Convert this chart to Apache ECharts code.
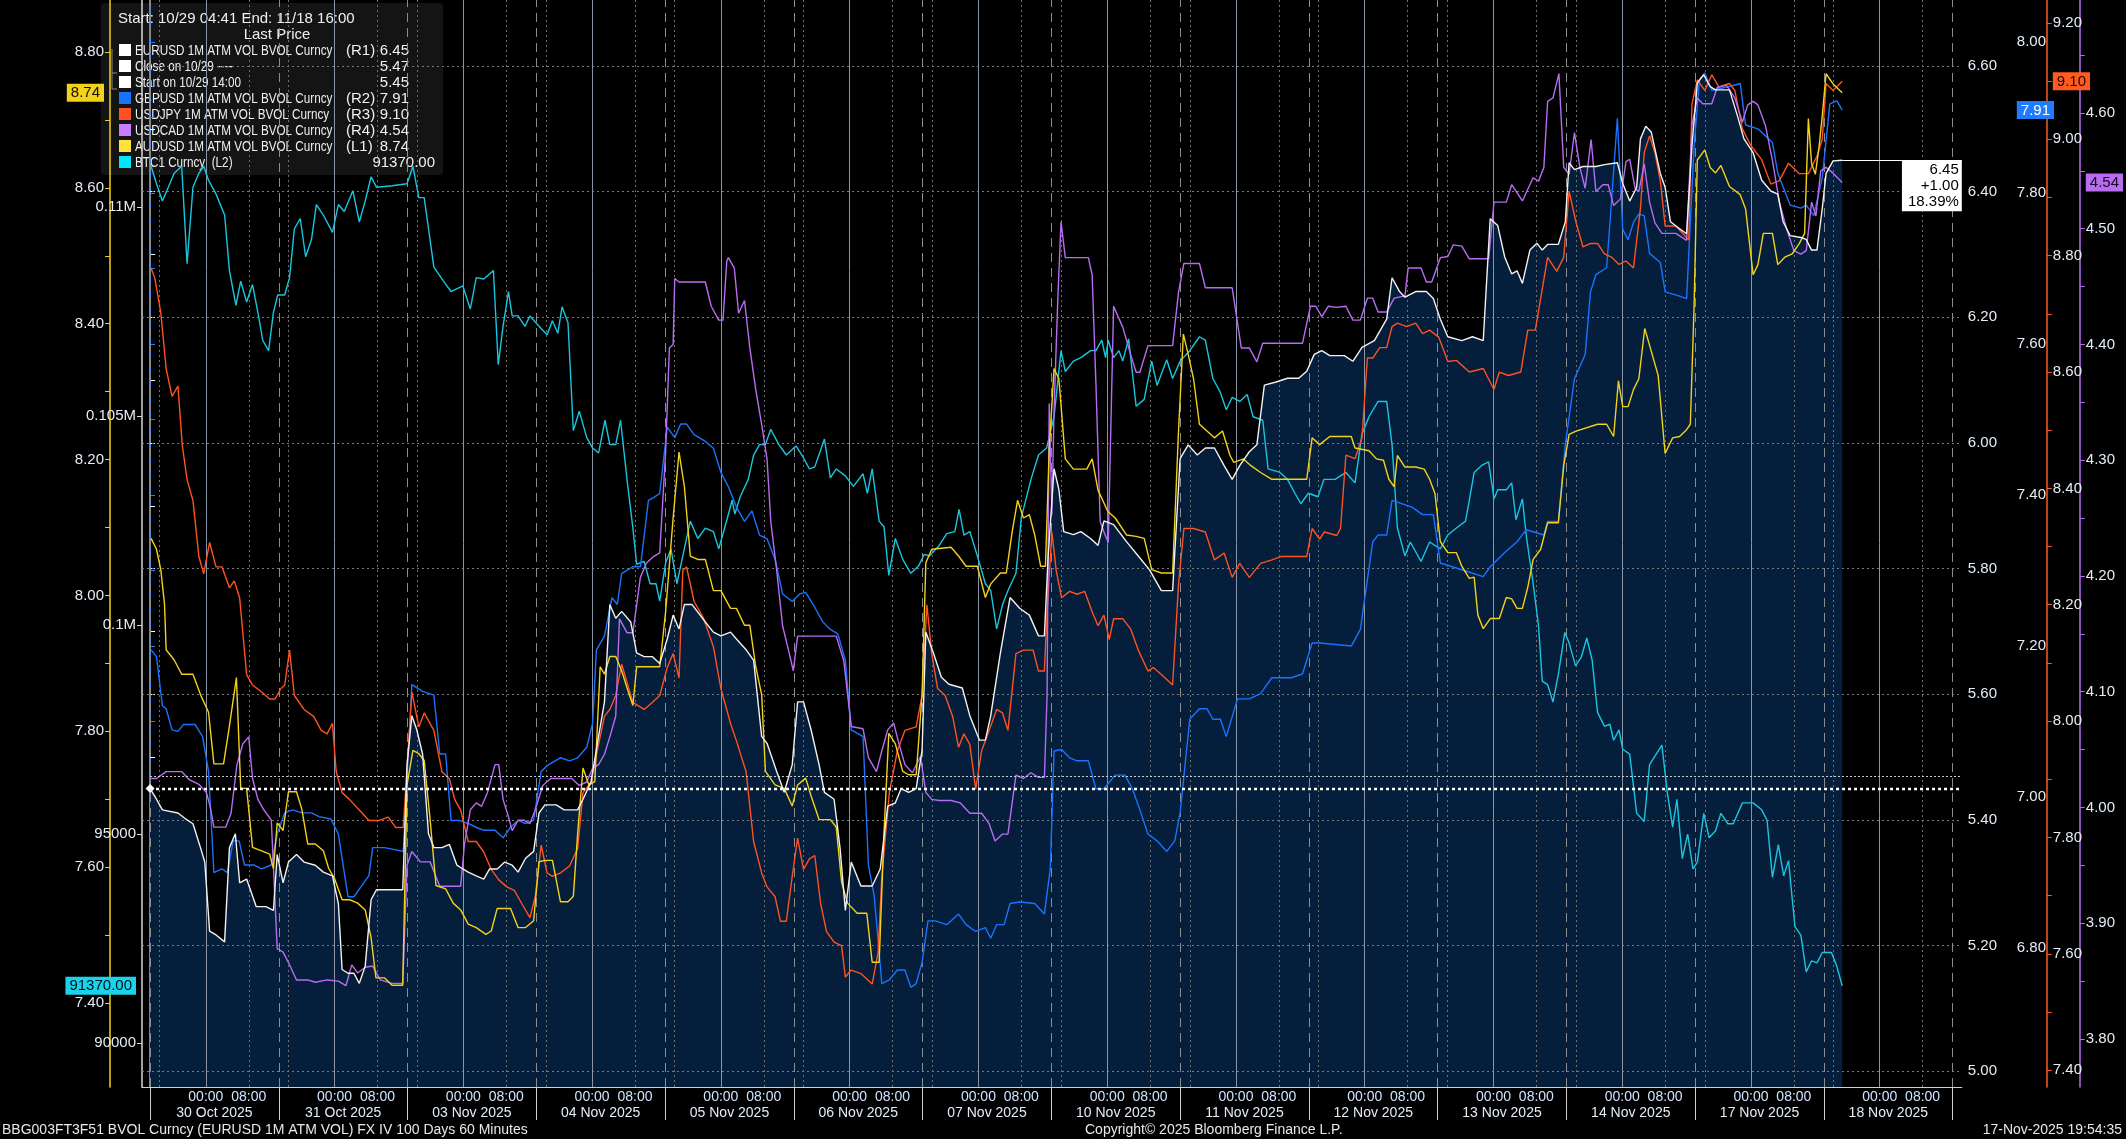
<!doctype html>
<html lang="en">
<head>
  <meta charset="UTF-8">
  <title>EURUSD 1M ATM VOL</title>
  <style>
    html, body { margin: 0; padding: 0; background: #000; }
  </style>
</head>
<body>
<div id="main" style="width: 2126px;height: 1139px"></div>
<script src="https://cdn.jsdelivr.net/npm/echarts@6/dist/echarts.min.js"></script>
<script>
    // x values are trading hours since 10/29 14:00 (each day column = 24h)
    var days = ['30 Oct 2025', '31 Oct 2025', '03 Nov 2025', '04 Nov 2025', '05 Nov 2025', '06 Nov 2025', '07 Nov 2025',
        '10 Nov 2025', '11 Nov 2025', '12 Nov 2025', '13 Nov 2025', '14 Nov 2025', '17 Nov 2025', '18 Nov 2025'];

    var eurusd = [[0,5.45],[1.2,5.433],[2.3,5.416],[5.2,5.411],[6.9,5.400],[8.0,5.394],[9.4,5.356],[10.2,5.333],[11.1,5.223],[12.3,5.217],[13.9,5.206],[14.8,5.356],[15.9,5.378],[16.7,5.300],[18.0,5.306],[19.8,5.262],[21.6,5.262],[23.0,5.256],[23.7,5.345],[24.8,5.300],[25.8,5.333],[27.3,5.345],[28.7,5.333],[30.8,5.328],[32.3,5.317],[34.0,5.311],[35.1,5.267],[35.8,5.162],[36.9,5.156],[38.0,5.156],[39.0,5.140],[40.1,5.167],[41.2,5.273],[42.2,5.289],[43.7,5.289],[45.1,5.289],[47.1,5.289],[47.9,5.488],[48.8,5.566],[49.7,5.544],[50.8,5.505],[51.9,5.378],[52.9,5.356],[54.4,5.356],[55.8,5.361],[57.2,5.328],[58.3,5.322],[59.3,5.317],[60.8,5.311],[62.2,5.306],[63.3,5.322],[64.7,5.322],[66.1,5.333],[67.5,5.328],[68.6,5.317],[70.0,5.339],[71.5,5.350],[72.5,5.411],[73.6,5.424],[75.7,5.424],[77.2,5.416],[79.7,5.416],[80.7,5.433],[82.2,5.461],[83.6,5.533],[84.7,5.588],[85.7,5.743],[86.8,5.721],[87.9,5.732],[89.6,5.715],[90.7,5.666],[92.1,5.660],[93.6,5.660],[95.0,5.649],[96.4,5.688],[97.5,5.726],[98.6,5.704],[99.6,5.743],[101.0,5.743],[103.5,5.715],[105.0,5.699],[106.4,5.693],[108.2,5.699],
        [109.3,5.688],[111.1,5.671],[112.5,5.654],[114.0,5.533],[115.0,5.522],[116.8,5.477],[118.2,5.444],[119.7,5.488],[120.7,5.588],[121.8,5.588],[123.2,5.544],[124.7,5.488],[125.7,5.444],[127.5,5.433],[128.6,5.356],[129.6,5.256],[130.7,5.333],[132.5,5.295],[134.6,5.295],[136.1,5.322],[137.5,5.422],[138.9,5.427],[140.0,5.450],[141.4,5.444],[142.8,5.450],[143.9,5.511],[144.6,5.699],[146.0,5.666],[147.5,5.627],[148.9,5.616],[151.4,5.610],[152.8,5.566],[154.6,5.527],[155.7,5.527],[156.7,5.566],[158.5,5.666],[160.3,5.754],[162.1,5.737],[163.9,5.726],[165.6,5.693],[166.7,5.693],[167.4,5.820],[168.5,5.959],[169.4,5.926],[170.3,5.859],[172.1,5.854],[173.5,5.859],[175.3,5.848],[176.7,5.837],[177.8,5.876],[179.6,5.870],[182.0,5.843],[184.2,5.820],[186.3,5.798],[188.5,5.765],[190.6,5.765],[192.0,5.975],[193.5,5.997],[195.2,5.981],[196.7,5.992],[198.4,5.992],[200.2,5.964],[201.7,5.942],[203.1,5.964],[204.9,5.986],[206.3,5.997],[207.7,6.092],[209.9,6.097],[212.0,6.103],[214.1,6.103],[215.6,6.114],[217.0,6.141],[218.4,6.147],
        [219.9,6.139],[222.6,6.139],[224.2,6.130],[225.9,6.152],[228.2,6.163],[230.5,6.197],[231.5,6.263],[232.9,6.241],[233.9,6.232],[235.9,6.241],[237.9,6.241],[239.2,6.230],[240.5,6.197],[241.9,6.169],[244.5,6.163],[246.5,6.169],[248.5,6.163],[249.8,6.357],[251.2,6.346],[252.5,6.296],[253.8,6.269],[254.8,6.274],[255.8,6.254],[257.2,6.307],[258.5,6.318],[259.5,6.307],[260.5,6.316],[262.5,6.316],[263.8,6.352],[264.5,6.446],[265.5,6.435],[267.1,6.440],[269.5,6.440],[271.1,6.443],[273.5,6.446],[274.5,6.413],[275.8,6.385],[277.1,6.407],[277.8,6.484],[278.8,6.504],[279.8,6.495],[281.5,6.429],[282.4,6.407],[283.4,6.352],[285.1,6.341],[286.4,6.333],[287.4,6.473],[288.4,6.573],[289.6,6.586],[290.8,6.567],[291.8,6.562],[294.4,6.562],[295.8,6.523],[297.1,6.484],[298.8,6.462],[300.4,6.418],[302.1,6.401],[303.4,6.396],[304.4,6.352],[305.7,6.330],[307.7,6.327],[308.7,6.324],[309.7,6.307],[310.7,6.307],[311.7,6.374],[312.4,6.429],[313.7,6.449],[315.4,6.45]];

    var gbpusd = [[0.2,7.195],[1.2,7.186],[2.3,7.121],[3.0,7.117],[4.1,7.089],[5.2,7.087],[6.2,7.096],[8.4,7.096],[9.8,7.080],[10.9,7.034],[11.9,6.900],[13.4,6.905],[14.4,6.900],[15.5,6.942],[16.6,6.942],[17.6,6.910],[19.4,6.910],[20.8,6.905],[22.6,6.910],[23.7,6.951],[25.1,6.979],[26.6,6.983],[28.3,6.979],[30.1,6.979],[31.5,6.974],[33.7,6.971],[35.1,6.951],[36.9,6.868],[38.0,6.868],[39.4,6.882],[40.8,6.896],[41.5,6.933],[43.7,6.933],[47.2,6.928],[48.8,7.149],[50.8,7.140],[52.9,7.135],[54.0,7.057],[55.1,7.057],[56.1,6.969],[57.6,6.969],[59.3,6.965],[60.8,6.960],[62.2,6.956],[64.3,6.956],[65.8,6.946],[67.2,6.960],[68.6,6.969],[70.0,6.965],[71.5,6.969],[72.9,7.034],[74.3,7.043],[76.5,7.052],[78.2,7.048],[79.7,7.052],[81.4,7.066],[82.5,7.098],[83.2,7.195],[84.7,7.213],[86.1,7.264],[87.1,7.255],[87.9,7.296],[90.0,7.305],[91.4,7.305],[92.9,7.393],[93.9,7.397],[95.0,7.402],[96.4,7.490],[97.8,7.476],[98.9,7.494],[100.0,7.494],[101.4,7.480],[103.5,7.471],[105.0,7.462],[106.4,7.430],[107.8,7.411],
        [109.3,7.384],[110.8,7.365],[112.2,7.379],[113.6,7.347],[115.0,7.342],[116.5,7.315],[117.9,7.269],[119.7,7.259],[121.1,7.269],[122.2,7.271],[123.6,7.255],[125.4,7.232],[126.8,7.222],[128.2,7.216],[129.6,7.181],[130.7,7.089],[132.9,7.080],[133.9,6.910],[135.0,6.868],[136.4,6.753],[137.8,6.758],[139.3,6.771],[140.7,6.771],[141.8,6.748],[142.8,6.753],[143.9,6.781],[145.0,6.836],[146.4,6.836],[148.5,6.831],[150.7,6.845],[152.1,6.831],[153.9,6.822],[155.7,6.827],[156.7,6.813],[157.8,6.831],[159.2,6.831],[160.3,6.859],[162.1,6.861],[164.9,6.859],[166.7,6.845],[167.8,6.905],[168.5,7.061],[169.9,7.063],[171.4,7.052],[172.8,7.048],[174.9,7.048],[176.3,7.011],[177.8,7.011],[179.9,7.029],[181.7,7.029],[183.1,7.011],[184.5,6.983],[186.0,6.951],[187.7,6.942],[189.5,6.928],[191.0,6.942],[192.0,6.979],[193.8,7.103],[195.6,7.117],[197.0,7.117],[198.1,7.103],[199.5,7.103],[200.6,7.080],[202.7,7.130],[204.9,7.130],[207.0,7.137],[209.1,7.158],[212.7,7.158],[214.8,7.163],[216.6,7.204],[218.0,7.204],
        [223.9,7.200],[225.6,7.222],[227.9,7.338],[228.9,7.347],[230.5,7.347],[231.5,7.393],[235.2,7.384],[237.2,7.374],[239.2,7.374],[240.5,7.310],[244.5,7.301],[248.5,7.292],[249.8,7.305],[252.5,7.324],[254.8,7.338],[256.5,7.354],[259.8,7.347],[260.5,7.365],[262.5,7.365],[263.8,7.467],[265.5,7.554],[267.5,7.586],[268.5,7.669],[269.5,7.692],[271.5,7.701],[272.5,7.798],[273.5,7.899],[274.5,7.752],[275.5,7.738],[276.5,7.761],[277.5,7.772],[278.5,7.770],[279.5,7.720],[281.5,7.708],[282.4,7.669],[284.8,7.664],[286.4,7.660],[287.8,7.862],[288.8,7.950],[289.8,7.959],[291.1,7.936],[294.4,7.941],[296.4,7.945],[297.4,7.890],[299.7,7.885],[302.4,7.867],[303.4,7.826],[305.7,7.784],[307.7,7.780],[308.7,7.784],[310.1,7.770],[311.7,7.821],[313.1,7.918],[314.4,7.922],[315.4,7.91]];

    var usdjpy = [[0.2,8.779],[0.9,8.761],[2.0,8.702],[3.0,8.606],[4.1,8.558],[5.2,8.576],[6.0,8.475],[6.9,8.415],[8.0,8.379],[9.1,8.283],[10.0,8.253],[11.1,8.307],[12.3,8.265],[13.4,8.265],[14.8,8.229],[15.7,8.241],[16.7,8.212],[18.0,8.080],[19.1,8.062],[20.8,8.050],[22.3,8.038],[23.3,8.038],[24.4,8.056],[25.1,8.062],[26.0,8.122],[26.9,8.044],[28.7,8.020],[30.5,8.008],[31.9,7.984],[33.0,7.978],[34.0,7.996],[34.7,7.913],[35.8,7.877],[37.2,7.865],[39.0,7.847],[40.8,7.829],[42.6,7.829],[44.4,7.835],[45.8,7.817],[47.2,7.817],[48.8,8.050],[50.1,7.990],[51.1,8.014],[52.9,7.984],[54.4,7.913],[55.8,7.901],[56.8,7.865],[57.9,7.847],[59.3,7.793],[60.8,7.793],[62.2,7.775],[63.6,7.745],[65.0,7.727],[66.5,7.715],[67.9,7.709],[69.3,7.686],[70.8,7.662],[71.8,7.698],[72.9,7.787],[74.0,7.739],[75.0,7.733],[76.5,7.739],[78.2,7.751],[79.7,7.781],[80.7,7.877],[82.2,7.895],[83.6,7.960],[84.7,8.008],[85.7,8.020],[86.8,8.044],[87.9,8.098],[90.0,8.032],[92.1,8.020],[93.6,8.032],[95.0,8.044],[96.4,8.092],[97.5,8.116],[98.6,8.074],[99.3,8.259],[100.0,8.265],[101.4,8.206],[103.2,8.176],[105.0,8.128],[106.4,8.056],[108.2,7.996],
        [109.3,7.966],[111.1,7.913],[112.5,7.793],[114.0,7.739],[115.0,7.715],[116.5,7.698],[117.5,7.656],[118.6,7.656],[119.7,7.733],[120.7,7.799],[121.8,7.745],[122.9,7.763],[123.9,7.769],[125.0,7.686],[126.1,7.638],[127.5,7.620],[128.9,7.614],[129.6,7.560],[130.7,7.572],[132.5,7.566],[134.6,7.548],[135.7,7.602],[136.4,7.733],[137.8,7.877],[139.3,7.949],[140.7,7.984],[142.8,7.990],[143.9,8.044],[144.8,8.200],[145.7,8.116],[146.8,8.056],[148.2,8.044],[149.6,8.008],[150.7,7.955],[151.7,7.978],[152.8,7.960],[153.9,7.883],[155.0,7.949],[156.4,7.984],[157.8,8.020],[158.9,8.014],[159.9,7.984],[161.4,8.116],[162.8,8.122],[164.6,8.122],[165.6,8.086],[166.7,8.086],[167.2,8.188],[168.1,8.325],[168.9,8.259],[169.9,8.212],[171.4,8.223],[172.8,8.218],[174.2,8.223],[175.6,8.188],[176.7,8.164],[177.8,8.182],[178.8,8.140],[179.6,8.176],[181.3,8.176],[182.8,8.158],[184.2,8.122],[186.0,8.086],[187.0,8.092],[188.5,8.080],[190.6,8.062],[191.7,8.235],[192.7,8.331],[194.5,8.331],[196.7,8.325],[198.4,8.277],[200.2,8.289],[201.7,8.247],[203.1,8.271],[204.9,8.247],[207.0,8.271],[209.1,8.277],[210.9,8.283],[212.7,8.283],[215.6,8.283],[216.6,8.331],[218.0,8.313],
        [218.9,8.325],[221.2,8.319],[221.9,8.331],[222.9,8.457],[224.6,8.451],[225.9,8.487],[226.9,8.624],[227.9,8.624],[229.2,8.642],[230.5,8.642],[231.5,8.678],[232.5,8.684],[234.2,8.678],[235.9,8.684],[237.2,8.666],[238.5,8.672],[240.2,8.660],[241.9,8.618],[243.5,8.620],[245.9,8.600],[248.5,8.606],[250.5,8.570],[251.5,8.600],[253.2,8.594],[255.5,8.600],[256.8,8.672],[258.2,8.672],[260.5,8.797],[262.2,8.773],[263.5,8.797],[264.5,8.911],[265.8,8.857],[267.1,8.815],[268.5,8.821],[269.8,8.821],[271.1,8.803],[272.5,8.797],[273.8,8.785],[275.1,8.791],[276.5,8.779],[277.8,8.881],[278.5,8.977],[279.5,9.006],[280.5,8.977],[281.5,8.929],[282.4,8.851],[284.4,8.851],[286.8,8.827],[287.4,9.060],[288.4,9.102],[289.8,9.084],[291.1,9.111],[292.4,9.090],[294.4,9.096],[295.4,9.084],[296.8,9.018],[298.4,8.989],[300.4,8.965],[302.1,8.923],[303.7,8.929],[305.4,8.959],[307.4,8.941],[309.1,8.941],[310.7,8.971],[311.7,9.001],[312.4,9.096],[313.7,9.084],[315.4,9.10]];

    var usdcad = [[0.2,4.025],[1.2,4.025],[3.0,4.031],[5.9,4.031],[7.3,4.024],[9.1,4.020],[10.5,4.013],[11.2,4.001],[11.9,3.983],[14.1,3.983],[15.1,3.995],[16.2,4.037],[17.3,4.055],[18.4,4.061],[19.1,4.025],[20.1,4.007],[21.2,3.998],[22.6,3.989],[23.7,3.878],[24.8,3.875],[25.8,3.866],[27.3,3.851],[29.4,3.851],[30.8,3.849],[33.0,3.851],[35.1,3.850],[36.5,3.846],[37.6,3.864],[38.7,3.857],[40.1,3.862],[41.5,3.863],[42.9,3.851],[45.1,3.848],[47.1,3.848],[47.9,3.950],[48.8,3.962],[50.4,3.953],[52.2,3.953],[54.0,3.932],[55.8,3.932],[57.9,3.932],[58.6,3.968],[59.7,3.998],[60.8,4.004],[61.8,4.001],[62.9,4.013],[64.3,4.037],[65.0,4.037],[65.8,4.007],[66.8,3.992],[67.5,3.980],[68.6,3.989],[69.7,3.989],[70.8,3.986],[71.8,3.998],[73.2,4.019],[74.7,4.025],[76.5,4.025],[78.6,4.025],[80.0,4.019],[81.4,4.022],[82.5,4.034],[83.6,4.037],[84.7,4.046],[85.7,4.061],[86.8,4.079],[87.5,4.163],[88.9,4.151],[90.0,4.151],[91.4,4.199],[92.5,4.211],[93.9,4.217],[95.0,4.220],[96.1,4.307],[96.8,4.397],[97.5,4.400],[97.8,4.457],[98.6,4.454],[103.5,4.454],[104.6,4.433],[106.0,4.421],[106.8,4.421],[107.5,4.472],[107.8,4.475],[108.9,4.466],
        [109.7,4.427],[110.8,4.438],[111.8,4.397],[112.9,4.361],[114.0,4.331],[115.0,4.301],[115.7,4.247],[116.8,4.205],[117.9,4.157],[119.0,4.136],[119.9,4.118],[120.7,4.148],[122.9,4.148],[125.0,4.148],[127.9,4.148],[129.3,4.127],[130.7,4.070],[132.9,4.068],[133.9,4.043],[135.4,4.031],[136.4,4.049],[137.5,4.067],[138.6,4.073],[139.6,4.055],[140.7,4.037],[142.1,4.030],[143.6,4.044],[144.6,4.013],[145.7,4.007],[147.1,4.006],[149.3,4.006],[151.0,4.004],[152.8,3.995],[155.0,3.995],[156.4,3.986],[157.5,3.971],[158.9,3.977],[159.9,3.977],[161.4,4.028],[162.8,4.025],[164.2,4.030],[165.6,4.026],[166.7,4.026],[167.2,4.097],[167.6,4.349],[168.1,4.253],[168.5,4.343],[169.2,4.439],[169.8,4.506],[170.6,4.475],[174.9,4.475],[175.6,4.460],[176.3,4.367],[177.1,4.247],[177.8,4.238],[178.6,4.229],[179.6,4.433],[181.3,4.415],[182.8,4.391],[183.8,4.376],[184.5,4.376],[186.0,4.399],[188.5,4.399],[190.6,4.399],[191.7,4.445],[192.7,4.470],[195.6,4.470],[196.7,4.449],[198.8,4.449],[201.7,4.449],[203.4,4.397],[204.9,4.397],[206.3,4.385],[207.4,4.401],[209.9,4.401],[212.7,4.401],[214.8,4.401],[216.3,4.433],[217.3,4.433],[218.4,4.424],
        [219.6,4.433],[221.2,4.432],[222.9,4.433],[224.2,4.421],[225.6,4.421],[226.9,4.440],[227.9,4.440],[228.9,4.428],[230.5,4.428],[231.9,4.440],[233.9,4.442],[234.5,4.466],[236.9,4.466],[237.9,4.454],[238.9,4.454],[240.5,4.475],[241.9,4.476],[242.9,4.486],[244.5,4.485],[245.9,4.474],[249.5,4.474],[250.5,4.523],[252.8,4.523],[253.8,4.538],[255.8,4.524],[257.8,4.544],[258.8,4.541],[259.8,4.553],[260.5,4.610],[261.5,4.613],[262.6,4.634],[263.5,4.553],[264.5,4.547],[265.5,4.583],[266.5,4.553],[267.5,4.535],[268.6,4.577],[269.5,4.532],[270.8,4.538],[271.8,4.538],[272.8,4.520],[274.1,4.526],[275.1,4.558],[275.8,4.560],[276.8,4.535],[277.5,4.532],[278.5,4.556],[279.5,4.523],[280.5,4.505],[281.8,4.496],[284.4,4.496],[286.4,4.490],[287.4,4.589],[288.4,4.613],[289.4,4.608],[291.1,4.608],[292.1,4.622],[293.8,4.624],[295.4,4.613],[296.8,4.592],[297.8,4.607],[298.8,4.610],[299.7,4.607],[301.1,4.589],[302.4,4.559],[303.7,4.523],[305.1,4.499],[306.4,4.481],[307.7,4.478],[308.7,4.481],[309.7,4.523],[310.5,4.511],[311.4,4.550],[312.4,4.553],[313.7,4.548],[315.4,4.54]];

    var audusd = [[0.2,8.084],[1.2,8.068],[2.0,8.038],[2.7,7.987],[3.0,7.920],[4.5,7.905],[5.9,7.884],[8.0,7.884],[9.4,7.854],[10.9,7.828],[11.9,7.752],[13.7,7.752],[14.8,7.808],[16.1,7.879],[16.9,7.716],[18.0,7.716],[19.1,7.629],[20.8,7.624],[22.3,7.619],[23.0,7.598],[23.7,7.665],[24.8,7.654],[25.8,7.711],[27.3,7.711],[28.3,7.685],[29.4,7.634],[30.8,7.634],[32.3,7.624],[33.3,7.598],[34.4,7.583],[35.8,7.552],[37.2,7.552],[38.7,7.547],[40.1,7.537],[41.2,7.496],[42.1,7.437],[43.7,7.437],[45.1,7.426],[47.1,7.426],[47.9,7.721],[49.0,7.772],[50.1,7.767],[51.1,7.757],[52.2,7.670],[53.3,7.573],[55.1,7.568],[56.5,7.547],[57.9,7.537],[59.3,7.516],[60.8,7.511],[62.6,7.501],[63.6,7.506],[64.7,7.539],[67.2,7.539],[68.6,7.511],[70.0,7.511],[71.5,7.521],[72.5,7.608],[73.6,7.610],[75.0,7.610],[76.5,7.549],[77.9,7.549],[78.9,7.557],[79.7,7.649],[80.7,7.746],[81.8,7.721],[82.9,7.726],[83.9,7.895],[84.7,7.884],[85.7,7.910],[86.8,7.910],[87.9,7.889],[88.9,7.864],[90.0,7.838],[90.7,7.895],[95.0,7.895],[96.1,7.976],[97.5,8.114],[98.6,8.211],[99.6,8.160],[100.7,8.058],[102.1,8.053],[103.5,8.053],[105.0,8.007],[106.4,8.007],[108.2,7.981],
        [109.3,7.981],[110.8,7.956],[111.8,7.956],[112.9,7.895],[114.0,7.854],[114.7,7.741],[116.5,7.721],[118.2,7.716],[119.7,7.690],[120.7,7.721],[122.2,7.731],[123.2,7.705],[124.7,7.670],[126.8,7.670],[127.9,7.659],[128.9,7.578],[130.0,7.547],[131.8,7.532],[133.6,7.532],[134.6,7.460],[135.9,7.460],[136.8,7.649],[137.7,7.797],[138.9,7.782],[140.3,7.741],[141.4,7.736],[142.8,7.736],[143.9,7.854],[144.6,8.048],[145.7,8.068],[149.3,8.071],[150.7,8.058],[152.1,8.043],[154.2,8.043],[155.7,7.997],[156.7,8.017],[158.5,8.033],[159.6,8.033],[160.7,8.094],[161.7,8.140],[162.8,8.114],[163.9,8.119],[164.9,8.089],[166.0,8.043],[166.9,8.043],[167.6,8.216],[168.5,8.334],[169.4,8.319],[170.6,8.201],[172.1,8.186],[174.6,8.186],[175.6,8.201],[176.7,8.155],[178.5,8.124],[179.9,8.114],[182.0,8.089],[183.8,8.087],[185.3,8.084],[186.7,8.038],[188.5,8.033],[190.6,8.033],[191.7,8.242],[192.6,8.385],[193.5,8.355],[194.5,8.319],[195.6,8.252],[197.0,8.242],[198.4,8.232],[199.9,8.242],[201.3,8.206],[202.0,8.196],[203.8,8.201],[205.2,8.191],[207.0,8.181],[209.1,8.171],[211.3,8.171],[213.4,8.171],[215.6,8.171],[216.6,8.232],[218.0,8.222],
        [219.9,8.234],[221.9,8.234],[223.9,8.234],[224.6,8.217],[227.2,8.213],[228.6,8.201],[229.9,8.199],[230.9,8.171],[231.9,8.160],[232.5,8.206],[233.9,8.189],[235.9,8.189],[237.5,8.186],[238.5,8.171],[239.5,8.150],[240.5,8.079],[241.9,8.063],[243.5,8.063],[244.5,8.043],[245.9,8.025],[246.8,8.027],[247.5,7.971],[248.5,7.951],[249.8,7.966],[251.5,7.966],[252.8,7.997],[253.8,7.995],[254.8,7.981],[255.8,7.981],[256.8,8.012],[257.8,8.053],[259.2,8.068],[260.5,8.107],[262.5,8.107],[263.5,8.191],[264.5,8.237],[265.8,8.242],[269.8,8.252],[271.5,8.252],[272.8,8.234],[273.7,8.316],[274.5,8.278],[275.5,8.278],[276.5,8.303],[277.5,8.319],[278.6,8.393],[279.8,8.360],[281.1,8.324],[282.4,8.209],[283.8,8.232],[285.1,8.234],[286.4,8.244],[287.1,8.252],[287.8,8.426],[288.4,8.641],[289.8,8.656],[290.8,8.630],[291.8,8.622],[292.8,8.633],[294.4,8.602],[296.4,8.590],[297.4,8.569],[298.8,8.472],[299.7,8.487],[300.7,8.533],[302.4,8.533],[303.4,8.487],[304.7,8.498],[306.1,8.503],[307.4,8.518],[308.4,8.533],[309.1,8.702],[309.7,8.636],[310.4,8.620],[311.1,8.661],[311.7,8.707],[312.4,8.768],[313.7,8.753],[315.4,8.74]];

    var btc = [[0.2,110973],[1.2,110557],[2.3,110141],[3.4,110474],[4.5,110807],[5.9,110973],[6.9,108643],[8.0,110474],[9.1,110807],[10.0,110973],[10.9,110641],[12.3,110308],[13.9,109809],[14.8,108477],[16.0,107645],[16.9,108227],[18.0,107728],[19.1,108144],[20.1,107478],[21.0,106812],[22.1,106563],[23.0,107478],[23.8,107894],[25.1,107894],[26.0,108310],[26.9,109475],[28.0,109725],[29.0,108810],[30.1,109226],[31.0,110058],[32.3,109808],[34.0,109392],[35.1,110058],[36.2,109892],[37.8,110391],[39.0,109642],[40.1,110141],[41.2,110724],[42.2,110474],[45.1,110507],[47.9,110557],[49.0,110973],[50.1,110224],[51.1,110224],[52.9,108560],[54.7,108227],[56.1,107978],[58.3,108111],[59.7,107561],[60.8,108310],[62.2,108277],[64.0,108477],[64.9,106230],[65.8,107145],[66.8,107978],[67.5,107395],[68.6,107395],[69.9,107145],[70.8,107395],[72.5,107145],[74.0,106946],[75.0,107279],[76.0,106979],[76.8,107611],[77.9,107229],[78.9,104649],[80.0,105115],[81.4,104482],[82.5,104233],[83.6,104116],[84.8,104898],[85.7,104316],[86.8,104316],[87.7,104898],[88.9,103484],[90.0,102319],[90.7,101453],[92.1,101520],[93.2,100987],[94.3,100987],[95.0,100571],[96.1,101487],[97.1,101820],[98.2,100987],[99.3,101653],[100.7,102485],[102.1,102069],[103.5,102319],[105.0,102235],[106.0,101820],[107.1,102319],[108.5,102985],
        [109.0,102652],[110.0,103068],[111.5,103484],[112.5,104066],[113.6,104316],[114.7,104316],[115.7,104682],[117.2,104316],[118.6,104066],[120.4,104283],[121.5,104066],[122.9,103733],[123.9,103783],[125.7,104449],[126.8,103517],[127.9,103733],[129.6,103567],[131.1,103317],[132.9,103617],[133.7,103151],[134.6,103733],[135.9,102485],[136.8,102352],[137.7,101187],[138.9,102069],[140.3,101570],[141.8,101237],[143.2,101403],[144.3,101686],[145.3,101653],[147.1,101902],[148.5,102185],[150.0,102235],[150.8,102768],[151.7,102152],[152.8,102235],[154.2,101653],[155.7,100987],[156.7,100821],[157.8,99905],[158.9,100488],[159.9,100821],[161.4,101237],[162.4,102568],[164.2,103484],[165.6,104066],[167.1,104233],[168.5,104982],[169.8,106563],[170.6,106064],[172.1,106313],[173.5,106396],[175.3,106563],[176.3,106563],[177.4,106813],[178.1,106396],[178.6,106813],[179.6,106396],[180.6,106563],[181.3,106313],[182.4,106846],[183.8,105231],[185.3,105398],[186.7,106313],[187.7,105731],[189.5,106346],[190.6,105897],[192.0,106313],[193.8,106563],[195.6,106896],[196.7,106813],[198.1,105897],[199.5,105564],[200.6,105148],[201.7,105448],[203.1,105348],[204.5,105514],[205.6,104982],[207.4,104898],[208.4,103733],[210.6,103650],[212.0,103484],[213.4,103151],[214.5,102901],[215.9,103151],[217.7,103068],[218.8,103484],
        [220.9,103484],[222.9,103650],[224.6,103400],[225.9,104566],[227.2,104982],[228.9,105348],[230.5,105348],[231.5,104316],[232.5,102319],[233.9,101653],[234.9,101986],[236.9,101520],[238.5,101986],[240.5,101820],[241.9,102152],[243.5,102319],[245.2,102485],[245.9,102984],[246.8,103650],[248.2,103817],[249.5,103900],[250.5,103017],[251.2,103234],[252.8,103234],[253.8,103400],[254.6,102518],[255.8,103017],[256.5,102152],[257.8,100987],[258.8,99988],[259.5,98657],[260.5,98574],[261.5,98157],[262.5,98823],[263.7,99822],[264.5,99572],[265.7,99023],[266.8,99239],[267.8,99689],[268.8,99156],[269.8,97908],[271.1,97575],[272.1,97625],[272.8,97242],[273.8,97492],[274.5,97026],[275.8,96909],[277.1,95495],[278.5,95295],[279.5,96660],[281.8,97126],[282.8,95994],[283.8,95162],[284.6,95827],[285.6,94413],[286.6,94995],[287.6,94163],[288.4,94329],[289.6,95495],[290.6,94912],[291.8,95079],[292.8,95495],[294.1,95245],[295.1,95245],[296.8,95745],[298.8,95745],[300.4,95578],[301.4,95328],[302.4,93963],[303.5,94746],[304.5,93997],[305.4,94363],[306.6,92782],[307.7,92582],[308.7,91700],[309.7,91966],[310.7,91916],[311.7,92166],[313.4,92166],[314.4,91833],[315.4,91370]];

    // last prices and the start / close reference levels
    var lastEUR = 6.45, lastGBP = 7.91, lastJPY = 9.10, lastCAD = 4.54, lastAUD = 8.74, lastBTC = 91370;
    var closeLevel = 5.47, startLevel = 5.45;

    // axis tick labels
    var r1Labels = [5.0, 5.2, 5.4, 5.6, 5.8, 6.0, 6.2, 6.4, 6.6];
    var r1Minor = [5.1, 5.3, 5.5, 5.7, 5.9, 6.1, 6.3, 6.5];
    var r2Labels = [6.8, 7.0, 7.2, 7.4, 7.6, 7.8, 8.0];
    var r2Minor = [6.9, 7.1, 7.3, 7.5, 7.7, 7.9];
    var r3Labels = [7.4, 7.6, 7.8, 8.0, 8.2, 8.4, 8.6, 8.8, 9.0, 9.2];
    var r3Minor = [7.5, 7.7, 7.9, 8.1, 8.3, 8.5, 8.7, 8.9, 9.1];
    var r4Labels = [3.8, 3.9, 4.0, 4.1, 4.2, 4.3, 4.4, 4.5, 4.6];
    var r4Minor = [3.85, 3.95, 4.05, 4.15, 4.25, 4.35, 4.45, 4.55, 4.65];
    var l1Labels = [7.4, 7.6, 7.8, 8.0, 8.2, 8.4, 8.6, 8.8];
    var l1Minor = [7.5, 7.7, 7.9, 8.1, 8.3, 8.5, 8.7];
    var l2Labels = [90000, 95000, 100000, 105000, 110000];
    var l2Names = {90000: '90000', 95000: '95000', 100000: '0.1M', 105000: '0.105M', 110000: '0.11M'};

    var legendRows = [
        ['EURUSD 1M ATM VOL BVOL Curncy', '(R1)', '6.45', '#ffffff'],
        ['Close on 10/29 ----', '', '5.47', '#ffffff'],
        ['Start on 10/29 14:00', '', '5.45', '#ffffff'],
        ['GBPUSD 1M ATM VOL BVOL Curncy', '(R2)', '7.91', '#1a73ff'],
        ['USDJPY 1M ATM VOL BVOL Curncy', '(R3)', '9.10', '#ff5220'],
        ['USDCAD 1M ATM VOL BVOL Curncy', '(R4)', '4.54', '#c77dff'],
        ['AUDUSD 1M ATM VOL BVOL Curncy', '(L1)', '8.74', '#ffe13a'],
        ['BTC1 Curncy  (L2)', '', '91370.00', '#00e5ff']
    ];

    var FONT = '"Liberation Sans Narrow", "Liberation Sans", sans-serif';
    var TXT = '#e4ecf6';

    var hourLabels = [], boundaries = [], dayCenters = [], solidLines = [], dottedLines = [];
    for (var k = 0; k < days.length; k++) {
        hourLabels.push(24 * k + 10.4, 24 * k + 18.4);
        dayCenters.push(24 * k + 12);
        solidLines.push({xAxis: 24 * k + 10.4});
        dottedLines.push({xAxis: 24 * k + 1.8}, {xAxis: 24 * k + 18.4});
    }
    for (k = 0; k <= days.length; k++) boundaries.push(24 * k);

    function yAx(pos, offset, color, min, max, labels, minor, last, tagStyle, names) {
        return {
            type: 'value', position: pos, offset: offset, min: min, max: max,
            splitLine: {show: false},
            axisLine: {show: true, lineStyle: {color: color, width: 1.5}},
            axisTick: {show: true, customValues: labels.concat(minor), length: 5, lineStyle: {color: color}},
            axisLabel: {
                customValues: last === null ? labels : labels.concat([last]),
                fontFamily: FONT, fontSize: 15, color: TXT, margin: 6, showMinLabel: true, showMaxLabel: true,
                formatter: function (v) {
                    if (last !== null && Math.abs(v - last) < 1e-6) {
                        return '{tag|' + v.toFixed(2) + '}';
                    }
                    return names ? names[Math.round(v)] : v.toFixed(2);
                },
                rich: {tag: tagStyle}
            }
        };
    }

    function tag(bg, fg) {
        return {backgroundColor: bg, color: fg, padding: [2, 4, 1, 4], fontFamily: FONT, fontSize: 15};
    }

    var myCharts = echarts.init(document.querySelector('#main'));

    function lineSeries(name, data, yIdx, color, z) {
        return {
            name: name, type: 'line', data: data, yAxisIndex: yIdx, z: z,
            showSymbol: false, symbol: 'none', animation: false,
            lineStyle: {color: color, width: 1.4}
        };
    }

    var legendChildren = [
        {type: 'rect', shape: {x: 0, y: 0, width: 342, height: 172, r: 4}, style: {fill: 'rgba(22,22,22,0.93)'}},
        {type: 'text', x: 17, y: 8, style: {text: 'Start: 10/29 04:41 End: 11/18 16:00', fill: '#f0f0f0', font: '15px ' + FONT}},
        {type: 'text', x: 176, y: 24, style: {text: 'Last Price', fill: '#f0f0f0', font: '15px ' + FONT, align: 'center'}},
        {type: 'polyline', shape: {points: [[11, 46], [11, 86], [16, 86]]}, style: {stroke: '#888', lineWidth: 1, fill: null}},
        {type: 'polyline', shape: {points: [[11, 70], [16, 70]]}, style: {stroke: '#888', lineWidth: 1, fill: null}}
    ];
    legendRows.forEach(function (row, i) {
        var y = 40 + i * 16;
        legendChildren.push({type: 'rect', shape: {x: 18, y: y + 1, width: 12, height: 12}, style: {fill: row[3]}});
        legendChildren.push({type: 'text', x: 34, y: y, scaleX: 0.78, style: {text: row[0], fill: '#f0f0f0', font: '15px ' + FONT}});
        if (row[1]) legendChildren.push({type: 'text', x: 245, y: y, style: {text: row[1], fill: '#f0f0f0', font: '15px ' + FONT}});
        legendChildren.push({type: 'text', x: row[2].length > 5 ? 334 : 308, y: y, style: {text: row[2], fill: '#f0f0f0', font: '15px ' + FONT, align: 'right'}});
    });

    myCharts.setOption({
        backgroundColor: '#000',
        animation: false,
        grid: {left: 142, right: 163, top: 0, bottom: 52},
        xAxis: [{
            type: 'value', min: -1.5, max: 337.7, position: 'bottom',
            splitLine: {show: false},
            axisLine: {show: true, lineStyle: {color: '#d0d0d0'}},
            axisTick: {show: true, customValues: boundaries, length: 33, lineStyle: {color: '#d0d0d0'}},
            axisLabel: {
                customValues: hourLabels, fontFamily: FONT, fontSize: 14, color: '#cfe4ff', margin: 3,
                formatter: function (v) { return (v % 24) < 14 ? '00:00' : '08:00'; }
            }
        }, {
            type: 'value', min: -1.5, max: 337.7, position: 'bottom', offset: 16,
            splitLine: {show: false}, axisLine: {show: false}, axisTick: {show: false},
            axisLabel: {
                customValues: dayCenters, fontFamily: FONT, fontSize: 14, color: TXT, margin: 3,
                formatter: function (v) { return days[Math.round((v - 12) / 24)]; }
            }
        }],
        yAxis: [
            yAx('right', 0, '#ffffff', 4.975, 6.705, r1Labels, r1Minor, null, {}, null),
            yAx('right', 49, '#1f7bff', 6.616, 8.0556, r2Labels, r2Minor, lastGBP, tag('#1f7bff', '#ffffff'), null),
            yAx('right', 85, '#ff5a1f', 7.371, 9.2395, r3Labels, r3Minor, lastJPY, tag('#ff5a1f', '#1a0a00'), null),
            yAx('right', 118, '#b86cf2', 3.7585, 4.6976, r4Labels, r4Minor, lastCAD, tag('#b86cf2', '#1a0a24'), null),
            yAx('left', 32, '#f2d21b', 7.2763, 8.8766, l1Labels, l1Minor, lastAUD, tag('#f2d21b', '#111'), null),
            yAx('left', 0, '#d8d8d8', 88947, 114952, l2Labels, [], lastBTC, tag('#19d3ea', '#001018'), l2Names)
        ],
        series: [
            {
                name: 'fill', type: 'line', data: eurusd, yAxisIndex: 0, z: 1, showSymbol: false, symbol: 'none',
                lineStyle: {width: 0}, areaStyle: {color: '#041e3b', opacity: 1, origin: 'start'},
                markLine: {
                    silent: true, symbol: 'none', z: 2, animation: false, label: {show: false},
                    data: r1Labels.map(function (v) {
                        return {yAxis: v, lineStyle: {color: '#7a7a7a', type: [2, 3], width: 1}};
                    }).concat(boundaries.map(function (b) {
                        return {xAxis: b, lineStyle: {color: '#8c8c8c', type: [9, 6], width: 1}};
                    })).concat(solidLines.map(function (d) {
                        return {xAxis: d.xAxis, lineStyle: {color: '#8a96a6', type: 'solid', width: 1}};
                    })).concat(dottedLines.map(function (d) {
                        return {xAxis: d.xAxis, lineStyle: {color: '#6f6f6f', type: [2, 3], width: 1}};
                    }))
                }
            },
            lineSeries('BTC1 Curncy (L2)', btc, 5, '#19c6df', 3),
            lineSeries('GBPUSD 1M ATM VOL BVOL Curncy (R2)', gbpusd, 1, '#1a73ff', 3),
            lineSeries('USDJPY 1M ATM VOL BVOL Curncy (R3)', usdjpy, 2, '#ff5220', 3),
            lineSeries('USDCAD 1M ATM VOL BVOL Curncy (R4)', usdcad, 3, '#b86cf2', 3),
            lineSeries('AUDUSD 1M ATM VOL BVOL Curncy (L1)', audusd, 4, '#f2d21b', 3),
            {
                name: 'EURUSD 1M ATM VOL BVOL Curncy (R1)', type: 'line', data: eurusd, yAxisIndex: 0, z: 4,
                showSymbol: false, symbol: 'none', lineStyle: {color: '#f2f2f2', width: 1.4},
                markLine: {
                    silent: true, animation: false, z: 4,
                    data: [
                        [{coord: [0, closeLevel], symbol: 'none', lineStyle: {color: '#cfcfcf', type: [2, 2], width: 1.2}, label: {show: false}},
                            {coord: [337.7, closeLevel], symbol: 'none'}],
                        [{coord: [0, startLevel], symbol: 'diamond', symbolSize: 9, lineStyle: {color: '#ffffff', type: [3, 3], width: 2.4}, label: {show: false}},
                            {coord: [337.7, startLevel], symbol: 'none'}],
                        [{coord: [315.4, lastEUR], symbol: 'none', lineStyle: {color: '#ffffff', type: 'solid', width: 1.2},
                            label: {show: true, position: 'end', distance: 0, formatter: '6.45\n+1.00\n18.39%',
                                backgroundColor: '#ffffff', color: '#000', fontFamily: FONT, fontSize: 15,
                                lineHeight: 16, padding: [2, 3, 1, 6], align: 'right', verticalAlign: 'top'}},
                            {coord: [337.7, lastEUR], symbol: 'none'}]
                    ]
                }
            }
        ],
        graphic: [
            {type: 'group', left: 101, top: 3, z: 100, children: legendChildren},
            {type: 'text', left: 2, top: 1123, style: {text: 'BBG003FT3F51 BVOL Curncy (EURUSD 1M ATM VOL) FX IV 100 Days 60 Minutes', fill: '#e8e8e8', font: '14px ' + FONT}},
            {type: 'text', left: 1085, top: 1123, style: {text: 'Copyright\u00a9 2025 Bloomberg Finance L.P.', fill: '#e8e8e8', font: '14px ' + FONT}},
            {type: 'text', right: 4, top: 1123, style: {text: '17-Nov-2025 19:54:35', fill: '#e8e8e8', font: '14px ' + FONT}}
        ]
    });
</script>
</body>
</html>
